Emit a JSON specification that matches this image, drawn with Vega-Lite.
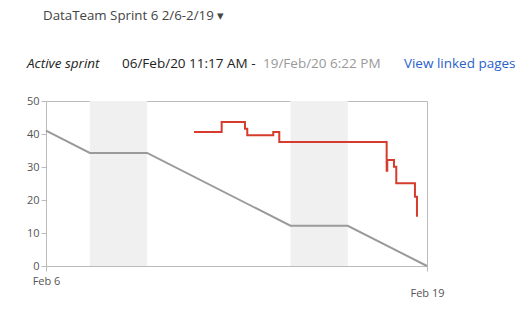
{
  "$schema": "https://vega.github.io/schema/vega-lite/v6.json",
  "autosize": "none",
  "width": 381,
  "height": 165,
  "padding": {"left": 46, "top": 101, "right": 101, "bottom": 48},
  "title": {
    "text": "DataTeam Sprint 6 2/6-2/19  ▾",
    "anchor": "start",
    "frame": "group",
    "offset": 35,
    "dx": -3,
    "font": "Open Sans",
    "fontSize": 13.3,
    "fontWeight": "normal",
    "color": "#444444"
  },
  "datasets": {
    "weekends": [
      {"start": "2020-02-08T00:00:00", "end": "2020-02-10T00:00:00"},
      {"start": "2020-02-15T00:00:00", "end": "2020-02-17T00:00:00"}
    ],
    "ideal": [
      {"time": "2020-02-06T11:17:00", "remaining": 41},
      {"time": "2020-02-08T00:00:00", "remaining": 34.25},
      {"time": "2020-02-10T00:00:00", "remaining": 34.25},
      {"time": "2020-02-15T00:00:00", "remaining": 12.2},
      {"time": "2020-02-17T00:00:00", "remaining": 12.2},
      {"time": "2020-02-19T18:22:00", "remaining": 0}
    ],
    "actual": [
      {"time": "2020-02-11T15:13:00", "remaining": 40.6},
      {"time": "2020-02-12T14:24:00", "remaining": 43.6},
      {"time": "2020-02-13T09:55:00", "remaining": 41.6},
      {"time": "2020-02-13T11:51:00", "remaining": 39.6},
      {"time": "2020-02-14T09:37:00", "remaining": 40.6},
      {"time": "2020-02-14T14:39:00", "remaining": 37.6},
      {"time": "2020-02-18T08:35:00", "remaining": 28.9},
      {"time": "2020-02-18T09:06:00", "remaining": 32.1},
      {"time": "2020-02-18T14:42:00", "remaining": 30.1},
      {"time": "2020-02-18T16:38:00", "remaining": 25.1},
      {"time": "2020-02-19T08:17:00", "remaining": 21},
      {"time": "2020-02-19T09:58:00", "remaining": 14.9}
    ],
    "header": [
      {"part": "label", "text": "Active sprint", "time": "2020-02-05T19:22:00", "row": 61.2},
      {"part": "start", "text": "06/Feb/20 11:17 AM -", "time": "2020-02-09T02:55:00", "row": 61.2},
      {"part": "end", "text": "19/Feb/20 6:22 PM", "time": "2020-02-14T00:59:00", "row": 61.2},
      {"part": "link", "text": "View linked pages", "time": "2020-02-18T23:00:00", "row": 61.2}
    ]
  },
  "encoding": {
    "x": {
      "field": "time",
      "type": "temporal",
      "scale": {
        "domain": [
          {"year": 2020, "month": 2, "date": 6, "hours": 11, "minutes": 17},
          {"year": 2020, "month": 2, "date": 19, "hours": 18, "minutes": 22}
        ]
      },
      "axis": {
        "title": null,
        "values": [
          {"year": 2020, "month": 2, "date": 6, "hours": 11, "minutes": 17},
          {"year": 2020, "month": 2, "date": 19, "hours": 18, "minutes": 22}
        ],
        "format": "%b %-d",
        "grid": false,
        "domainColor": "#bbbbbb",
        "tickColor": "#bbbbbb",
        "tickSize": 5,
        "labelColor": "#555555",
        "labelFont": "Open Sans",
        "labelFontSize": 11,
        "labelPadding": {"condition": {"test": "datum.value > datetime(2020, 1, 10)", "value": 16}, "value": 4},
        "labelFlush": false
      }
    },
    "y": {
      "field": "remaining",
      "type": "quantitative",
      "scale": {"domain": [0, 50], "nice": false},
      "axis": {
        "title": null,
        "values": [0, 10, 20, 30, 40, 50],
        "grid": false,
        "domainColor": "#bbbbbb",
        "tickColor": "#bbbbbb",
        "tickSize": 5,
        "labelColor": "#555555",
        "labelFont": "Open Sans",
        "labelFontSize": 11,
        "labelPadding": 2
      }
    }
  },
  "layer": [
    {
      "data": {"name": "weekends"},
      "mark": {"type": "rect", "color": "#f0f0f0"},
      "encoding": {
        "x": {"field": "start", "type": "temporal"},
        "x2": {"field": "end"},
        "y": {"value": 0},
        "y2": {"value": 165}
      }
    },
    {
      "data": {"name": "ideal"},
      "mark": {"type": "line", "color": "#9a9a9a", "strokeWidth": 2},
      "encoding": {}
    },
    {
      "data": {"name": "actual"},
      "mark": {"type": "line", "color": "#d63c2e", "strokeWidth": 2, "interpolate": "step-after"},
      "encoding": {}
    },
    {
      "data": {"name": "header"},
      "transform": [{"filter": "datum.part === 'label'"}],
      "mark": {"type": "text", "align": "left", "baseline": "middle", "font": "Open Sans", "fontSize": 13.5, "fontStyle": "italic", "color": "#222222"},
      "encoding": {"y": {"field": "row", "type": "quantitative"}, "text": {"field": "text"}}
    },
    {
      "data": {"name": "header"},
      "transform": [{"filter": "datum.part === 'start'"}],
      "mark": {"type": "text", "align": "left", "baseline": "middle", "font": "Open Sans", "fontSize": 13.5, "color": "#222222"},
      "encoding": {"y": {"field": "row", "type": "quantitative"}, "text": {"field": "text"}}
    },
    {
      "data": {"name": "header"},
      "transform": [{"filter": "datum.part === 'end'"}],
      "mark": {"type": "text", "align": "left", "baseline": "middle", "font": "Open Sans", "fontSize": 13.5, "color": "#999999"},
      "encoding": {"y": {"field": "row", "type": "quantitative"}, "text": {"field": "text"}}
    },
    {
      "data": {"name": "header"},
      "transform": [{"filter": "datum.part === 'link'"}],
      "mark": {"type": "text", "align": "left", "baseline": "middle", "font": "Open Sans", "fontSize": 13.5, "color": "#2a62c9"},
      "encoding": {"y": {"field": "row", "type": "quantitative"}, "text": {"field": "text"}}
    }
  ],
  "config": {
    "view": {"stroke": "#bbbbbb", "strokeWidth": 1},
    "background": "white"
  }
}
